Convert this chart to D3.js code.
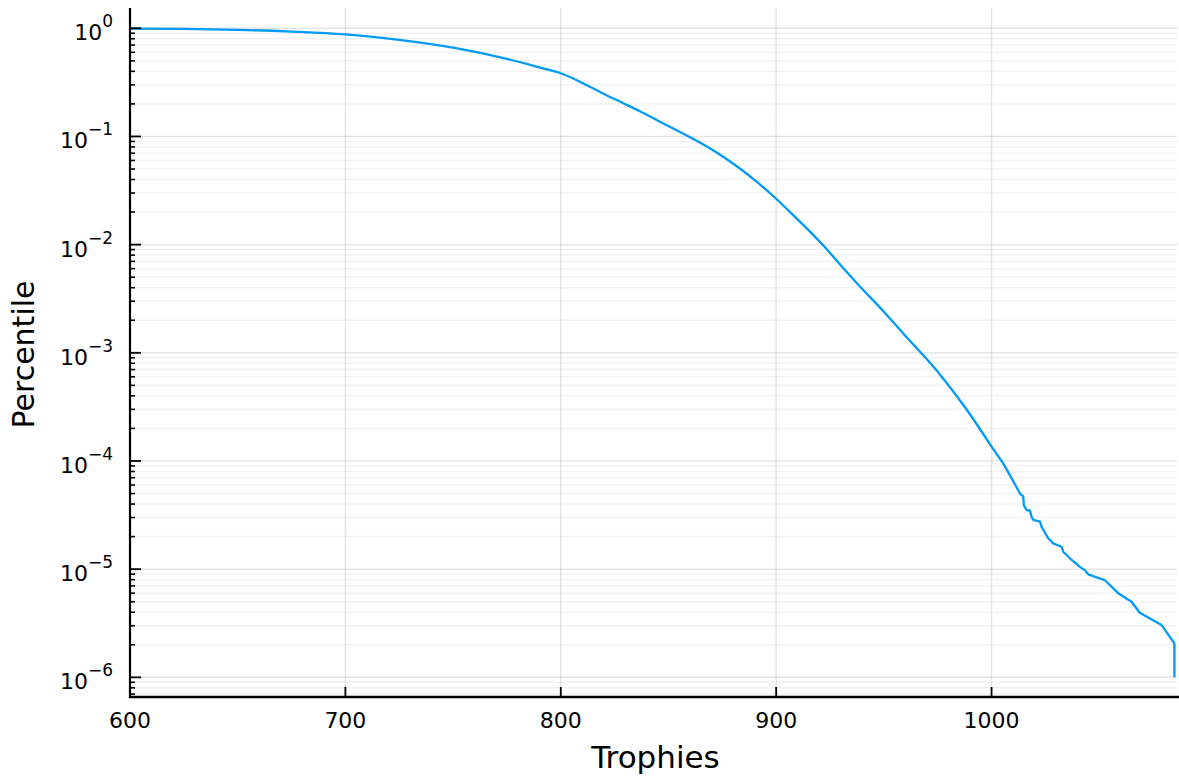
<!DOCTYPE html>
<html>
<head>
<meta charset="utf-8">
<script src="https://cdn.jsdelivr.net/npm/d3@7"></script>
<style>
  body { margin: 0; background: #fff; }
  text { font-family: "DejaVu Sans", sans-serif; fill: #000; }
</style>
</head>
<body>
<script>
// data (trophies vs fraction of players above)
var trophies = [600, 625, 650, 675, 700, 725, 750, 775, 787, 793, 800, 806, 813.5, 821, 829, 837, 844.5, 852,
                860, 868, 875.4, 883, 890.9, 899, 906, 915.7, 923, 931.2, 939, 950, 959, 975, 988, 1000,
                1005.4, 1008.5, 1013.2, 1014.7, 1015.0, 1016.3, 1017.8, 1018.6, 1019.4, 1022.5, 1023.3, 1026.3,
                1028.6, 1032.5, 1033.3, 1036.4, 1041.0, 1043.3, 1044.9, 1052.6, 1058.8, 1065.0, 1068.8, 1078.9,
                1084.9, 1084.9];
var percentile = [0.995, 0.986, 0.968, 0.933, 0.879, 0.780, 0.662, 0.521, 0.452, 0.419, 0.384, 0.342, 0.288,
                  0.242, 0.203, 0.170, 0.142, 0.119, 0.0982, 0.0804, 0.0650, 0.0508, 0.0382, 0.0277, 0.0204,
                  0.0132, 0.0093, 0.00604, 0.00408, 0.00240, 0.00151, 6.68e-4, 3.07e-4, 1.355e-4, 9.5e-5, 7.4e-5,
                  5.0e-5, 4.7e-5, 3.9e-5, 3.5e-5, 3.5e-5, 3.05e-5, 2.85e-5, 2.75e-5, 2.45e-5, 1.93e-5, 1.73e-5,
                  1.61e-5, 1.45e-5, 1.26e-5, 1.05e-5, 9.8e-6, 8.95e-6, 7.9e-6, 6.0e-6, 5.0e-6, 3.95e-6, 3.05e-6,
                  2.06e-6, 1.0e-6];
var xTicks = [600, 700, 800, 900, 1000];
var yExponents = [0, -1, -2, -3, -4, -5, -6];

var width = 1179, height = 778;
// plot frame (avoid the global "top" name, it belongs to window)
var pLeft = 130, pRight = 1177, pTop = 8, pBottom = 697;

var svg = d3.select("body").append("svg")
            .attr("width", width)
            .attr("height", height);

var x = d3.scaleLinear().domain([600, 1086.1]).range([pLeft, pRight]);
var y = d3.scaleLog().domain([6.58e-7, 1.54]).range([pBottom, pTop]);

// minor values 2..9 x 10^k inside domain
var minor = [];
for (var k = -7; k <= 0; k++) {
  for (var m = 2; m <= 9; m++) {
    var v = m * Math.pow(10, k);
    if (v >= y.domain()[0] && v <= y.domain()[1]) minor.push(v);
  }
}
var major = yExponents.map(function(e){ return Math.pow(10, e); });

// grid
svg.append("g").selectAll("line")
    .data(minor)
    .enter().append("line")
              .attr("x1", pLeft).attr("x2", pRight)
              .attr("y1", function(d){ return y(d); })
              .attr("y2", function(d){ return y(d); })
              .attr("stroke", "#000").attr("stroke-opacity", 0.05)
              .attr("stroke-width", 1.5);

svg.append("g").selectAll("line")
    .data(major)
    .enter().append("line")
              .attr("x1", pLeft).attr("x2", pRight)
              .attr("y1", function(d){ return y(d); })
              .attr("y2", function(d){ return y(d); })
              .attr("stroke", "#000").attr("stroke-opacity", 0.1)
              .attr("stroke-width", 1.5);

svg.append("g").selectAll("line")
    .data(xTicks)
    .enter().append("line")
              .attr("x1", function(d){ return x(d); })
              .attr("x2", function(d){ return x(d); })
              .attr("y1", pTop).attr("y2", pBottom)
              .attr("stroke", "#000").attr("stroke-opacity", 0.1)
              .attr("stroke-width", 1.5);

// curve: smooth body up to 1000, jagged tail drawn straight
var pts = d3.zip(trophies, percentile);
var split = trophies.indexOf(1000);

var smooth = d3.line()
    .curve(d3.curveMonotoneX)
    .x(function(d){ return x(d[0]); })
    .y(function(d){ return y(d[1]); });
var straight = d3.line()
    .x(function(d){ return x(d[0]); })
    .y(function(d){ return y(d[1]); });

svg.append("path")
    .attr("d", smooth(pts.slice(0, split + 1)) + straight(pts.slice(split)).replace(/^M[^L]*/, ""))
    .attr("fill", "none")
    .attr("stroke", "#009af9")
    .attr("stroke-width", 2.3)
    .attr("stroke-linejoin", "round");

// axes spines
svg.append("line")
    .attr("x1", pLeft).attr("x2", pLeft)
    .attr("y1", pTop).attr("y2", pBottom + 1)
    .attr("stroke", "#000").attr("stroke-width", 2.2);
svg.append("line")
    .attr("x1", pLeft - 1).attr("x2", pRight + 2)
    .attr("y1", pBottom).attr("y2", pBottom)
    .attr("stroke", "#000").attr("stroke-width", 2.4);

// y ticks
svg.append("g").selectAll("line")
    .data(minor)
    .enter().append("line")
              .attr("x1", pLeft).attr("x2", pLeft + 5)
              .attr("y1", function(d){ return y(d); })
              .attr("y2", function(d){ return y(d); })
              .attr("stroke", "#000").attr("stroke-width", 1.6);
svg.append("g").selectAll("line")
    .data(major)
    .enter().append("line")
              .attr("x1", pLeft).attr("x2", pLeft + 11)
              .attr("y1", function(d){ return y(d); })
              .attr("y2", function(d){ return y(d); })
              .attr("stroke", "#000").attr("stroke-width", 1.8);

// x ticks
svg.append("g").selectAll("line")
    .data(xTicks)
    .enter().append("line")
              .attr("x1", function(d){ return x(d); })
              .attr("x2", function(d){ return x(d); })
              .attr("y1", pBottom).attr("y2", pBottom - 10)
              .attr("stroke", "#000").attr("stroke-width", 1.8);

// x tick labels
svg.append("g").selectAll("text")
    .data(xTicks)
    .enter().append("text")
              .attr("x", function(d){ return x(d); })
              .attr("y", 728)
              .attr("text-anchor", "middle")
              .attr("font-size", 22)
              .text(function(d){ return d; });

// y tick labels 10^k
var yl = svg.append("g").selectAll("text")
    .data(yExponents)
    .enter().append("text")
              .attr("x", 113)
              .attr("y", function(d){ return y(Math.pow(10, d)) + 12; })
              .attr("text-anchor", "end")
              .attr("font-size", 22);
yl.append("tspan").text("10");
yl.append("tspan")
    .attr("dy", -13)
    .attr("font-size", 17)
    .text(function(d){ return d < 0 ? "\u2212" + (-d) : d; });

// axis titles
svg.append("text")
    .attr("x", (pLeft + pRight) / 2 + 2)
    .attr("y", 768)
    .attr("text-anchor", "middle")
    .attr("font-size", 31)
    .text("Trophies");

svg.append("text")
    .attr("transform", "translate(34," + ((pTop + pBottom) / 2 + 2) + ") rotate(-90)")
    .attr("text-anchor", "middle")
    .attr("font-size", 30)
    .text("Percentile");
</script>
</body>
</html>
